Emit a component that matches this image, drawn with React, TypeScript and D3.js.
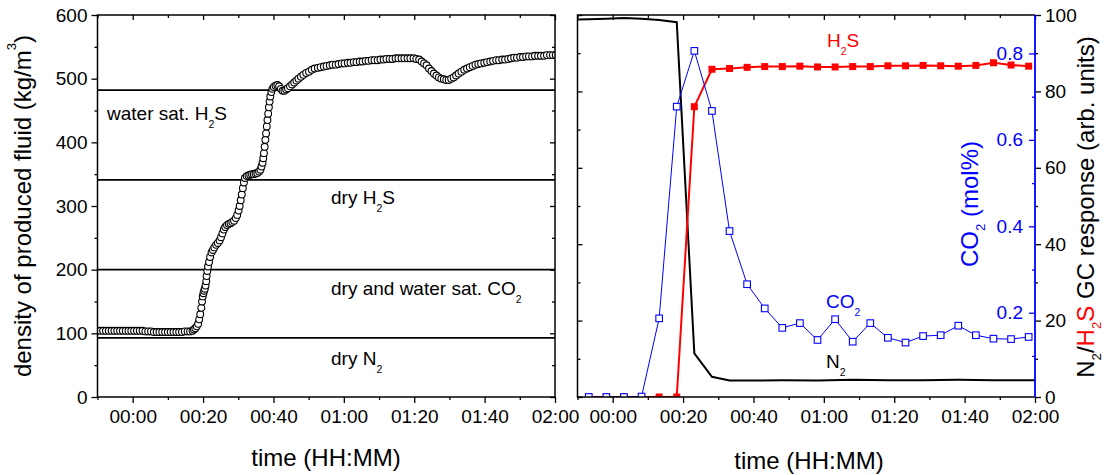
import React, { useEffect, useRef } from "react";
import * as d3 from "d3";

// time in minutes (00:00 = 0), density in kg/m3
const densityTime = [
  -10, -9.2, -8.4, -7.6, -6.8, -6.0, -5.2, -4.4, -3.6, -2.8, -2.0, -1.2, -0.4, 0.4, 1.2, 2.0, 2.8, 3.6, 4.4, 5.2,
  6.0, 6.8, 7.6, 8.4, 9.2, 10.0, 10.8, 11.6, 12.4, 13.2, 14.0, 14.8, 15.6, 16.3,
  17.0, 17.4, 17.8, 18.2, 18.6, 18.9, 19.2, 19.5, 19.7, 19.9, 20.1, 20.3, 20.5, 20.7, 20.9, 21.0, 21.2, 21.4, 21.7, 22.0,
  22.4, 22.8, 23.2, 23.7, 24.2, 24.7, 25.1, 25.5, 25.9, 26.3, 26.8, 27.3, 27.8, 28.3, 28.8, 29.3, 29.7, 30.1, 30.4, 30.7,
  31.0, 31.3, 31.6, 31.9, 32.4, 32.9, 33.4, 33.9, 34.4, 34.9, 35.4, 35.9, 36.3, 36.6, 36.9, 37.1, 37.3, 37.5, 37.7, 37.9,
  38.1, 38.3, 38.5, 38.7, 38.9, 39.1, 39.4, 39.7, 40.1, 40.6, 41.1, 41.6, 42.1, 42.6, 43.1, 43.6, 44.1, 44.7, 45.3, 45.9,
  46.5, 47.1, 47.8, 48.5, 49.3, 50.1, 50.9, 51.7, 52.6, 53.4, 54.3, 55.1, 56.0, 56.8, 57.7, 58.5, 59.4, 60.2, 61.1, 61.9,
  62.8, 63.6, 64.5, 65.3, 66.2, 67.0, 67.9, 68.7, 69.6, 70.4, 71.3, 72.1, 73.0, 73.8, 74.7, 75.5, 76.4, 77.2, 78.1, 78.9,
  79.8, 80.6, 81.4, 82.1, 82.8, 83.5, 84.2, 84.9, 85.6, 86.3, 87.0, 87.7, 88.4, 89.1, 89.8, 90.5, 91.2, 91.9, 92.6, 93.4,
  94.2, 95.0, 95.8, 96.6, 97.4, 98.2, 99.0, 99.9, 100.7, 101.6, 102.4, 103.3, 104.1, 105.0, 105.8, 106.7, 107.5, 108.4,
  109.2, 110.1, 110.9, 111.8, 112.6, 113.5, 114.3, 115.2, 116.0, 116.9, 117.7, 118.6, 119.4, 120.2
];
const densityValue = [
  104, 104, 104, 104, 104, 104, 104, 104, 104, 104, 104, 104, 104, 104, 104, 104, 104, 103, 103, 103,
  102, 102, 102, 102, 102, 102, 102, 102, 102, 102, 102, 103, 103, 103,
  104, 106, 108, 111, 115, 122, 130, 140, 150, 158, 163, 167, 170, 175, 182, 190, 198, 205, 212, 220,
  227, 231, 235, 239, 242, 246, 251, 257, 263, 267, 270, 272, 273, 275, 277, 281, 286, 293, 300, 309,
  318, 328, 337, 344, 347, 348, 349, 350, 350, 351, 352, 354, 357, 362, 368, 375, 383, 393, 404, 414,
  425, 435, 445, 455, 464, 472, 479, 484, 487, 489, 490, 488, 484, 481, 481, 483, 485, 488, 491, 494,
  497, 500, 503, 506, 509, 511, 514, 516, 517, 518, 519, 520, 521, 522, 522, 523, 524, 524, 525, 525,
  526, 526, 527, 527, 528, 528, 529, 529, 529, 530, 530, 531, 531, 531, 532, 532, 532, 532, 532, 532,
  532, 531, 530, 527, 524, 521, 516, 512, 508, 505, 502, 500, 499, 498, 498, 500, 502, 505, 508, 511,
  514, 516, 518, 520, 522, 523, 524, 525, 526, 527, 528, 529, 529, 530, 530, 531, 532, 533,
  533, 534, 534, 535, 535, 535, 536, 536, 536, 536, 537, 537, 537, 537
];

// fluid boundaries (kg/m3)
const boundaryLevels = [482, 341, 200, 93];

// GC sampling (right panel)
const gcTime = [
  -6.8, -1.8, 3.2, 8.2, 13.2, 18.2, 23.2, 28.2, 33.2, 38.2, 43.2, 48.2, 53.2, 58.2, 63.2, 68.2, 73.2, 78.2,
  83.2, 88.2, 93.2, 98.2, 103.2, 108.2, 113.2, 118.2
];
const co2Value = [
  0.005, 0.005, 0.005, 0.006, 0.187, 0.677, 0.806, 0.667, 0.389, 0.266, 0.21, 0.165, 0.176, 0.137, 0.185, 0.133,
  0.176, 0.142, 0.131, 0.146, 0.148, 0.17, 0.148, 0.14, 0.139, 0.144
];
const h2sValue = [
  0, 0, 0, 0, 0, 0, 76.0, 85.8, 86.0, 86.3, 86.5, 86.5, 86.6, 86.4, 86.4, 86.5, 86.5, 86.7, 86.7, 86.8, 86.7,
  86.6, 86.8, 87.5, 86.9, 86.6
];
const n2Time = [-10, -6.8, -1.8, 3.2, 8.2, 13.2, 18.2, 23.2, 28.2, 33.2, 38.2, 48.2, 58.2, 68.2, 78.2, 88.2, 98.2, 108.2, 120];
const n2Value = [98.8, 98.9, 99.0, 99.2, 99.0, 98.7, 98.1, 11.4, 5.3, 4.3, 4.3, 4.4, 4.3, 4.5, 4.4, 4.4, 4.5, 4.4, 4.4];

const majorTimes = [0, 20, 40, 60, 80, 100, 120];
const minorTimes = [-10, 10, 30, 50, 70, 90, 110];
const densityTicks = [0, 100, 200, 300, 400, 500, 600];
const densityMinor = [50, 150, 250, 350, 450, 550];
const gcTicks = [0, 20, 40, 60, 80, 100];
const gcMinor = [10, 30, 50, 70, 90];
const co2Ticks = [0.2, 0.4, 0.6, 0.8];
const co2Minor = [0.1, 0.3, 0.5, 0.7];

const FONT = "'Liberation Sans', Arial, sans-serif";
const RED = "#ff0000";
const BLUE = "#0000ff";

type Part = { t: string; s?: "sub" | "sup"; c?: string };

const fmtTime = (m: number) =>
  `${String(Math.floor(m / 60)).padStart(2, "0")}:${String(m % 60).padStart(2, "0")}`;

function rich(sel: any, parts: Part[], size: number, subShift = 0.42) {
  let shift = 0;
  parts.forEach((p) => {
    const target = p.s === "sub" ? size * subShift : p.s === "sup" ? -size * 0.62 : 0;
    const ts = sel
      .append("tspan")
      .attr("dy", target - shift)
      .style("font-size", `${p.s ? size * 0.55 : size}px`)
      .text(p.t);
    if (p.c) ts.attr("fill", p.c);
    shift = target;
  });
}

const App = () => {
  const svgRef = useRef<SVGSVGElement>(null);

  useEffect(() => {
    const svg = d3.select(svgRef.current);
    svg.selectAll("*").remove();
    svg.style("font-family", FONT);

    const top = 15;
    const bottom = 397;
    const L = { left: 97.5, right: 555 };
    const R = { left: 577.5, right: 1035 };

    const xL = d3.scaleLinear().domain([-10, 120]).range([L.left, L.right]);
    const xR = d3.scaleLinear().domain([-10, 120]).range([R.left, R.right]);
    const yDens = d3.scaleLinear().domain([0, 600]).range([bottom, top]);
    const yGC = d3.scaleLinear().domain([0, 100]).range([bottom, top]);
    const yCO2 = d3.scaleLinear().domain([0.005, 0.889]).range([bottom, top]);

    const defs = svg.append("defs");
    [["clipL", L], ["clipR", R]].forEach(([id, p]: any) => {
      defs.append("clipPath").attr("id", id)
        .append("rect").attr("x", p.left).attr("y", top)
        .attr("width", p.right - p.left).attr("height", bottom - top);
    });

    const styleAxis = (g: any, size: number, color = "#000") => {
      g.select(".domain").remove();
      g.selectAll(".tick line").attr("stroke", color).attr("stroke-width", 1.3);
      g.selectAll(".tick text").attr("fill", color).style("font-size", `${size}px`).style("font-family", FONT);
    };

    const addAxis = (axis: any, tx: number, ty: number, color = "#000") => {
      const g = svg.append("g").attr("transform", `translate(${tx},${ty})`).call(axis);
      styleAxis(g, 19, color);
      return g;
    };

    // ---------- left panel ----------
    const gL = svg.append("g");
    boundaryLevels.forEach((v) => {
      gL.append("line")
        .attr("x1", L.left).attr("x2", L.right)
        .attr("y1", yDens(v)).attr("y2", yDens(v))
        .attr("stroke", "#000").attr("stroke-width", 1.8);
    });

    gL.append("g").attr("clip-path", "url(#clipL)")
      .selectAll("circle")
      .data(densityTime.map((t, i) => [t, densityValue[i]]))
      .join("circle")
      .attr("cx", (d) => xL(d[0]))
      .attr("cy", (d) => yDens(d[1]))
      .attr("r", 3.4)
      .attr("fill", "#fff")
      .attr("stroke", "#000")
      .attr("stroke-width", 1.1);

    const regionText = (x: number, y: number, parts: Part[]) => {
      const t = gL.append("text").attr("x", x).attr("y", y).attr("fill", "#000");
      rich(t, parts, 19);
    };
    regionText(107, 120, [{ t: "water sat. H" }, { t: "2", s: "sub" }, { t: "S" }]);
    regionText(331, 204, [{ t: "dry H" }, { t: "2", s: "sub" }, { t: "S" }]);
    regionText(331, 295, [{ t: "dry and water sat. CO" }, { t: "2", s: "sub" }]);
    regionText(331, 365, [{ t: "dry N" }, { t: "2", s: "sub" }]);

    // left axes
    addAxis(d3.axisBottom(xL).tickValues(majorTimes).tickFormat(fmtTime as any).tickSize(6).tickPadding(7), 0, bottom);
    addAxis(d3.axisBottom(xL).tickValues(minorTimes).tickFormat(() => "").tickSize(3), 0, bottom);
    addAxis(d3.axisBottom(xL).tickValues(majorTimes).tickFormat(() => "").tickSize(5), 0, top);
    addAxis(d3.axisBottom(xL).tickValues(minorTimes).tickFormat(() => "").tickSize(3), 0, top);
    addAxis(d3.axisLeft(yDens).tickValues(densityTicks).tickSize(6).tickPadding(4), L.left, 0);
    addAxis(d3.axisLeft(yDens).tickValues(densityMinor).tickFormat(() => "").tickSize(3), L.left, 0);
    addAxis(d3.axisLeft(yDens).tickValues(densityTicks).tickFormat(() => "").tickSize(5), L.right, 0);
    addAxis(d3.axisLeft(yDens).tickValues(densityMinor).tickFormat(() => "").tickSize(3), L.right, 0);
    gL.append("rect").attr("x", L.left).attr("y", top)
      .attr("width", L.right - L.left).attr("height", bottom - top)
      .attr("fill", "none").attr("stroke", "#000").attr("stroke-width", 1.5);

    const yTitle = svg.append("text")
      .attr("transform", `translate(31,206) rotate(-90)`)
      .attr("text-anchor", "middle").attr("fill", "#000");
    rich(yTitle, [{ t: "density of produced fluid (kg/m" }, { t: "3", s: "sup" }, { t: ")" }], 24);

    svg.append("text").attr("x", 326).attr("y", 466).attr("text-anchor", "middle")
      .style("font-size", "24px").text("time (HH:MM)");

    // ---------- right panel ----------
    const gR = svg.append("g").attr("clip-path", "url(#clipR)");

    const n2Line = d3.line<number>().x((_, i) => xR(n2Time[i])).y((d) => yGC(d));
    gR.append("path").datum(n2Value).attr("d", n2Line)
      .attr("fill", "none").attr("stroke", "#000").attr("stroke-width", 2);

    const h2sLine = d3.line<number>().x((_, i) => xR(gcTime[i])).y((d) => yGC(d));
    gR.append("path").datum(h2sValue).attr("d", h2sLine)
      .attr("fill", "none").attr("stroke", RED).attr("stroke-width", 2);
    gR.selectAll("rect.h2s").data(h2sValue).join("rect").attr("class", "h2s")
      .attr("x", (_, i) => xR(gcTime[i]) - 3.5).attr("y", (d) => yGC(d) - 3.5)
      .attr("width", 7).attr("height", 7).attr("fill", RED);

    const co2Line = d3.line<number>().x((_, i) => xR(gcTime[i])).y((d) => yCO2(d));
    gR.append("path").datum(co2Value).attr("d", co2Line)
      .attr("fill", "none").attr("stroke", BLUE).attr("stroke-width", 1);
    gR.selectAll("rect.co2").data(co2Value).join("rect").attr("class", "co2")
      .attr("x", (_, i) => xR(gcTime[i]) - 3.3).attr("y", (d) => yCO2(d) - 3.3)
      .attr("width", 6.6).attr("height", 6.6).attr("fill", "#fff")
      .attr("stroke", BLUE).attr("stroke-width", 1.1);

    const seriesText = (x: number, y: number, parts: Part[], color: string) => {
      const t = svg.append("text").attr("x", x).attr("y", y).attr("fill", color);
      rich(t, parts, 19);
    };
    seriesText(827, 47, [{ t: "H" }, { t: "2", s: "sub" }, { t: "S" }], RED);
    seriesText(826, 308, [{ t: "CO" }, { t: "2", s: "sub" }], BLUE);
    seriesText(826, 368, [{ t: "N" }, { t: "2", s: "sub" }], "#000");

    // right axes
    addAxis(d3.axisBottom(xR).tickValues(majorTimes).tickFormat(fmtTime as any).tickSize(6).tickPadding(7), 0, bottom);
    addAxis(d3.axisBottom(xR).tickValues(minorTimes).tickFormat(() => "").tickSize(3), 0, bottom);
    addAxis(d3.axisBottom(xR).tickValues(majorTimes).tickFormat(() => "").tickSize(5), 0, top);
    addAxis(d3.axisBottom(xR).tickValues(minorTimes).tickFormat(() => "").tickSize(3), 0, top);
    addAxis(d3.axisRight(yGC).tickValues(gcTicks).tickFormat(() => "").tickSize(5), R.left, 0);
    addAxis(d3.axisRight(yGC).tickValues(gcMinor).tickFormat(() => "").tickSize(3), R.left, 0);
    addAxis(d3.axisRight(yGC).tickValues(gcTicks).tickSize(6).tickPadding(4), R.right, 0);
    addAxis(d3.axisRight(yGC).tickValues(gcMinor).tickFormat(() => "").tickSize(3), R.right, 0);
    addAxis(d3.axisLeft(yCO2).tickValues(co2Ticks).tickFormat(d3.format(".1f") as any).tickSize(6).tickPadding(6), R.right, 0, BLUE);
    addAxis(d3.axisLeft(yCO2).tickValues(co2Minor).tickFormat(() => "").tickSize(3), R.right, 0, BLUE);

    svg.append("path")
      .attr("d", `M${R.right},${top} L${R.left},${top} L${R.left},${bottom} L${R.right},${bottom}`)
      .attr("fill", "none").attr("stroke", "#000").attr("stroke-width", 1.5);
    svg.append("line").attr("x1", R.right).attr("x2", R.right).attr("y1", top).attr("y2", bottom)
      .attr("stroke", BLUE).attr("stroke-width", 1.8);

    const co2Title = svg.append("text")
      .attr("transform", `translate(978,204) rotate(-90)`)
      .attr("text-anchor", "middle").attr("fill", BLUE);
    rich(co2Title, [{ t: "CO" }, { t: "2", s: "sub" }, { t: " (mol%)" }], 24, 0.3);

    const gcTitle = svg.append("text")
      .attr("transform", `translate(1094,207) rotate(-90)`)
      .attr("text-anchor", "middle").attr("fill", "#000");
    rich(gcTitle, [
      { t: "N" }, { t: "2", s: "sub" }, { t: "/" }, { t: "H", c: RED }, { t: "2", s: "sub", c: RED },
      { t: "S", c: RED }, { t: " GC response (arb. units)" }
    ], 24, 0.28);

    svg.append("text").attr("x", 809).attr("y", 469).attr("text-anchor", "middle")
      .style("font-size", "24px").text("time (HH:MM)");
  }, []);

  return (
    <svg ref={svgRef} width={1106} height={475}
      style={{ position: "absolute", left: 0, top: 0, background: "#fff" }} />
  );
};

export default App;
